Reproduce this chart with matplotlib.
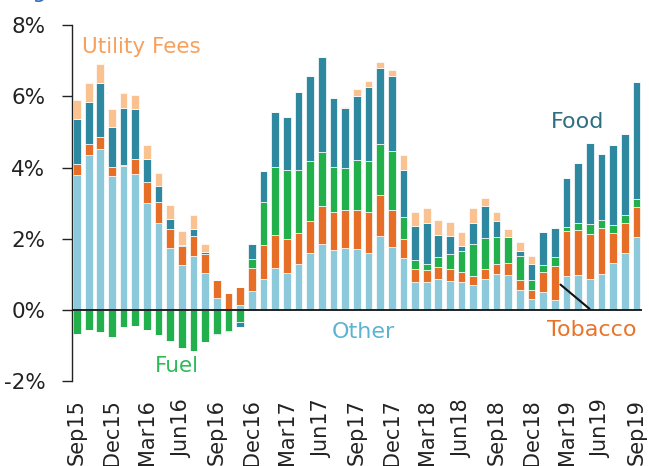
import numpy as np
import matplotlib
matplotlib.use("Agg")
import matplotlib.pyplot as plt

months = ["Sep15", "Oct15", "Nov15", "Dec15", "Jan16", "Feb16", "Mar16", "Apr16", "May16", "Jun16",
          "Jul16", "Aug16", "Sep16", "Oct16", "Nov16", "Dec16", "Jan17", "Feb17", "Mar17", "Apr17",
          "May17", "Jun17", "Jul17", "Aug17", "Sep17", "Oct17", "Nov17", "Dec17", "Jan18", "Feb18",
          "Mar18", "Apr18", "May18", "Jun18", "Jul18", "Aug18", "Sep18", "Oct18", "Nov18", "Dec18",
          "Jan19", "Feb19", "Mar19", "Apr19", "May19", "Jun19", "Jul19", "Aug19", "Sep19"]

other = [3.79, 4.35, 4.51, 3.76, 4.05, 3.82, 3.00, 2.45, 1.73, 1.26,
         1.52, 1.03, 0.33, 0.02, 0.13, 0.54, 0.88, 1.19, 1.05, 1.28,
         1.59, 1.85, 1.67, 1.75, 1.72, 1.59, 2.07, 1.76, 1.47, 0.77,
         0.77, 0.86, 0.82, 0.77, 0.69, 0.87, 1.02, 0.99, 0.55, 0.31,
         0.50, 0.29, 0.94, 0.98, 0.87, 1.02, 1.31, 1.59, 2.04]

tobacco = [0.30, 0.30, 0.34, 0.27, 0.02, 0.43, 0.60, 0.59, 0.54, 0.53,
           0.55, 0.53, 0.51, 0.46, 0.50, 0.64, 0.94, 0.92, 0.94, 0.87,
           0.92, 1.07, 1.07, 1.07, 1.08, 1.16, 1.16, 1.06, 0.53, 0.38,
           0.35, 0.35, 0.34, 0.29, 0.27, 0.28, 0.26, 0.32, 0.29, 0.25,
           0.56, 0.94, 1.27, 1.26, 1.27, 1.27, 0.85, 0.86, 0.86]

fuel = [-0.67, -0.56, -0.63, -0.76, -0.48, -0.45, -0.58, -0.70, -0.87, -1.07,
        -1.15, -0.90, -0.69, -0.59, -0.35, 0.26, 1.21, 1.91, 1.93, 1.79,
        1.68, 1.51, 1.29, 1.16, 1.42, 1.44, 1.43, 1.66, 0.62, 0.25,
        0.17, 0.29, 0.42, 0.60, 0.89, 0.88, 0.78, 0.74, 0.67, 0.27,
        0.19, 0.25, 0.13, 0.21, 0.27, 0.25, 0.22, 0.21, 0.21]

food = [1.27, 1.19, 1.53, 1.10, 1.61, 1.39, 0.64, 0.43, 0.28, 0.03,
        0.20, 0.07, -0.03, -0.04, -0.14, 0.40, 0.86, 1.53, 1.50, 2.19,
        2.38, 2.69, 1.93, 1.69, 1.80, 2.08, 2.13, 2.09, 1.31, 0.96,
        1.14, 0.60, 0.49, 0.14, 0.58, 0.88, 0.45, 0.00, 0.15, 0.45,
        0.94, 0.82, 1.37, 1.69, 2.29, 1.83, 2.25, 2.27, 3.30]

utility = [0.54, 0.53, 0.52, 0.52, 0.41, 0.41, 0.40, 0.39, 0.40, 0.40,
           0.39, 0.21, 0.00, 0.00, 0.00, 0.00, 0.00, 0.00, 0.00, 0.00,
           0.00, 0.00, 0.00, 0.03, 0.19, 0.17, 0.17, 0.17, 0.42, 0.39,
           0.42, 0.42, 0.40, 0.40, 0.42, 0.24, 0.24, 0.23, 0.24, 0.23,
           0.00, 0.00, 0.00, 0.00, 0.00, 0.00, 0.00, 0.00, 0.00]

series_names = ["Other", "Tobacco", "Fuel", "Food", "Utility Fees"]
series_vals = [other, tobacco, fuel, food, utility]
series_colors = ["#8BC9DB", "#E66E26", "#21B04B", "#2E88A0", "#F9C290"]

yticks = [-2, 0, 2, 4, 6, 8]
ytick_labels = ["-2%", "0%", "2%", "4%", "6%", "8%"]

plt.rcParams['font.family'] = ['DejaVu Sans']

fig = plt.figure(figsize=(6.49, 4.66), dpi=100)
ax = fig.add_axes([71.7 / 649, (466 - 381) / 466, 570 / 649, (381 - 25.3) / 466])

x = np.arange(len(months))
pos_base = np.zeros(len(months))
neg_base = np.zeros(len(months))
for name, vals, col in zip(series_names, series_vals, series_colors):
    v = np.array(vals)
    pos = np.where(v > 0, v, 0)
    neg = np.where(v < 0, v, 0)
    ax.bar(x, pos, bottom=pos_base, width=0.66, color=col, edgecolor="#FFFFFF",
           linewidth=0.5, zorder=2)
    ax.bar(x, neg, bottom=neg_base, width=0.66, color=col, edgecolor="#FFFFFF",
           linewidth=0.5, zorder=2)
    pos_base += pos
    neg_base += neg

ax.axhline(0, color="#111111", lw=1.3, zorder=3)

ax.set_xlim(-0.455, 48.45)
ax.set_ylim(-2, 8)
ax.set_yticks(yticks)
ax.set_yticklabels(ytick_labels, fontsize=15.5, color="#222222")
ax.set_xticks(x[::3])
ax.set_xticklabels(months[::3], rotation=90, fontsize=15, color="#222222")
ax.tick_params(axis="x", length=0, pad=13)
ax.tick_params(axis="y", direction="out", length=7, width=1, pad=12, color="#222222")

for s in ["top", "right", "bottom"]:
    ax.spines[s].set_visible(False)
ax.spines["left"].set_color("#222222")
ax.spines["left"].set_linewidth(1)

ax.text(5.49, 7.39, "Utility Fees", color="#F7A05C", fontsize=15.5, ha="center", va="center")
ax.text(42.96, 5.29, "Food", color="#2E6F80", fontsize=16, ha="center", va="center")
ax.text(24.57, -0.62, "Other", color="#5DB4D2", fontsize=16, ha="center", va="center")
ax.text(8.55, -1.57, "Fuel", color="#2DBB58", fontsize=15.5, ha="center", va="center")
ax.text(44.14, -0.58, "Tobacco", color="#E8742A", fontsize=16, ha="center", va="center")
ax.annotate("", xy=(41.3, 0.76), xytext=(44.15, -0.02),
            arrowprops=dict(arrowstyle="-", color="#111111", lw=1.5), zorder=4)

fig.text(138 / 649, 1 + 1.5 / 466, "Large Cities.", color="#2F6CB5", fontsize=16,
         style="italic", ha="right", va="baseline")

fig.savefig("out.png", dpi=100)
